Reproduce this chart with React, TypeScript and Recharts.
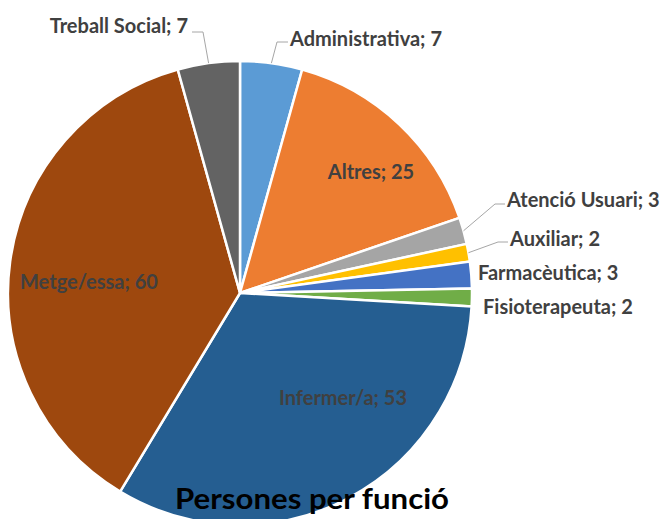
import { PieChart, Pie, Cell } from "recharts";

const categories = [
  "Administrativa",
  "Altres",
  "Atenció Usuari",
  "Auxiliar",
  "Farmacèutica",
  "Fisioterapeuta",
  "Infermer/a",
  "Metge/essa",
  "Treball Social",
];
const values = [7, 25, 3, 2, 3, 2, 53, 60, 7];
const colors = [
  "#5B9BD5",
  "#ED7D31",
  "#A5A5A5",
  "#FFC000",
  "#4472C4",
  "#70AD47",
  "#255E91",
  "#9E480E",
  "#636363",
];

const data = categories.map((name, i) => ({ name, value: values[i] }));

// label layout, offsets from the pie centre
type Spot = { x: number; y: number; anchor: "start" | "middle" | "end"; elbow?: [number, number] };
const spots: Record<string, Spot> = {
  Administrativa: { x: 50, y: -255, anchor: "start", elbow: [37, -251] },
  Altres: { x: 131, y: -122, anchor: "middle" },
  "Atenció Usuari": { x: 267, y: -94, anchor: "start", elbow: [255, -89] },
  Auxiliar: { x: 270, y: -55, anchor: "start", elbow: [258, -51] },
  Farmacèutica: { x: 238, y: -21, anchor: "start" },
  Fisioterapeuta: { x: 243, y: 13, anchor: "start" },
  "Infermer/a": { x: 103, y: 104, anchor: "middle" },
  "Metge/essa": { x: -151, y: -12, anchor: "middle" },
  "Treball Social": { x: -52, y: -268, anchor: "end", elbow: [-37, -261] },
};

const RAD = Math.PI / 180;
const FONT = "Lato, 'Open Sans', sans-serif";

function renderLabel(props: any) {
  const { cx, cy, midAngle, outerRadius, name, value } = props;
  const s = spots[name];
  if (!s) return null;
  const tx = cx + s.x;
  const ty = cy + s.y;
  let line = null;
  if (s.elbow) {
    const ex = cx + outerRadius * Math.cos(-midAngle * RAD);
    const ey = cy + outerRadius * Math.sin(-midAngle * RAD);
    const bx = cx + s.elbow[0];
    const by = cy + s.elbow[1];
    const endX = s.anchor === "end" ? tx + 4 : tx - 2;
    line = (
      <polyline
        points={`${ex},${ey} ${bx},${by} ${endX},${by}`}
        fill="none"
        stroke="#A6A6A6"
        strokeWidth={1}
      />
    );
  }
  return (
    <g key={name}>
      {line}
      <text
        x={tx}
        y={ty}
        textAnchor={s.anchor}
        dominantBaseline="central"
        fill="#404040"
        fontFamily={FONT}
        fontWeight={700}
        fontSize={20}
      >
        {`${name}; ${value}`}
      </text>
    </g>
  );
}

export default function App() {
  return (
    <div style={{ position: "absolute", left: 0, top: 0, width: 666, height: 519, background: "#fff", overflow: "hidden" }}>
      <PieChart width={666} height={519} margin={{ top: 0, right: 0, bottom: 0, left: 0 }}>
        <Pie
          data={data}
          dataKey="value"
          nameKey="name"
          cx={240}
          cy={293}
          outerRadius={232}
          startAngle={90}
          endAngle={-270}
          stroke="#ffffff"
          strokeWidth={2.5}
          label={renderLabel}
          labelLine={false}
          isAnimationActive={false}
        >
          {data.map((d, i) => (
            <Cell key={d.name} fill={colors[i]} />
          ))}
        </Pie>
      </PieChart>
      <svg width={666} height={519} style={{ position: "absolute", left: 0, top: 0, pointerEvents: "none" }}>
        <text
          x={312}
          y={498}
          textAnchor="middle"
          dominantBaseline="central"
          fill="#000"
          fontFamily={FONT}
          fontWeight={700}
          fontSize={28}
          textLength={274}
          lengthAdjust="spacingAndGlyphs"
        >
          Persones per funció
        </text>
      </svg>
    </div>
  );
}
